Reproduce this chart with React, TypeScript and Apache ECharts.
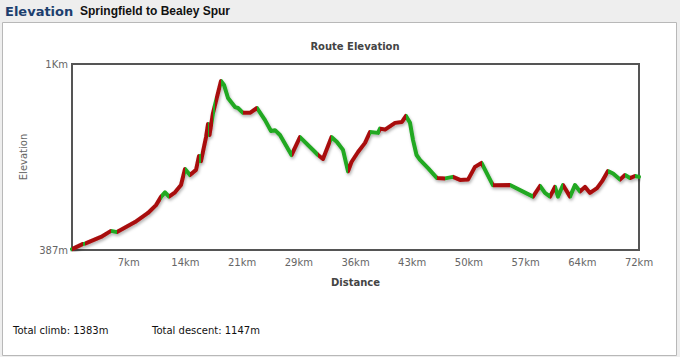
import React, { useEffect, useRef } from "react";
import * as echarts from "echarts";

// Route profile: distance (km), elevation (m), and colour of the segment that starts at each point
const distKm = [
  0, 1.4, 1.65, 3.68, 4.95, 5.71, 8.0, 9.65, 10.67, 11.3, 11.81, 12.32, 13.08, 13.84, 14.35, 14.98,
  15.75, 16.13, 16.38, 17.02, 17.27, 17.46, 17.9, 18.16, 18.92, 19.3, 19.81, 20.7, 21.08, 21.71,
  22.6, 23.49, 24.51, 25.27, 25.78, 26.41, 27.87, 28.95, 30.86, 31.24, 31.87, 32.95, 33.65, 34.41,
  35.05, 35.49, 36.32, 37.21, 37.84, 38.86, 39.11, 39.75, 41.02, 41.9, 42.41, 42.92, 43.3, 43.75,
  44.19, 45.21, 46.35, 47.37, 48.38, 49.27, 50.29, 51.17, 52.0, 53.46, 55.62, 58.54, 59.43, 60.06,
  60.7, 61.33, 61.71, 62.35, 63.24, 63.87, 64.51, 65.14, 65.78, 66.67, 67.3, 68.06, 68.7, 69.59,
  70.22, 70.86, 71.49, 72.0,
];
const elevM = [
  390, 407, 408, 430, 450, 446, 479, 509, 535, 562, 577, 563, 577, 601, 654, 634,
  651, 697, 680, 759, 802, 766, 838, 865, 944, 931, 888, 858, 855, 839,
  839, 855, 815, 779, 782, 766, 700, 759, 710, 700, 687, 759, 743, 717,
  646, 677, 710, 740, 776, 773, 787, 784, 806, 809, 829, 806, 750, 700,
  684, 657, 624, 623, 628, 618, 619, 661, 674, 600, 601, 563, 598, 575,
  563, 595, 563, 601, 563, 601, 580, 595, 575, 591, 613, 647, 639, 619,
  634, 624, 631, 628,
];
const segColor = [
  "r", "g", "r", "r", "g", "r", "r", "r", "r", "g", "g", "r", "r", "r", "g", "r",
  "r", "g", "r", "r", "g", "r", "g", "r", "g", "g", "g", "g", "g", "r",
  "r", "g", "g", "g", "g", "g", "r", "g", "g", "r", "r", "g", "g", "g",
  "r", "r", "r", "r", "g", "g", "r", "r", "r", "r", "g", "g", "g", "g",
  "g", "g", "r", "g", "r", "r", "r", "r", "g", "r", "g", "r", "g", "g",
  "r", "g", "g", "r", "g", "g", "r", "r", "r", "r", "r", "g", "g", "r",
  "g", "r", "g", "g",
];

const xTickValues = [7.2, 14.4, 21.6, 28.8, 36, 43.2, 50.4, 57.6, 64.8, 72];
const xTickLabels = ["7km", "14km", "21km", "29km", "36km", "43km", "50km", "57km", "64km", "72km"];
const yTickValues = [387, 1000];
const yTickLabels = ["387m", "1Km"];

const headerTitle = "Elevation";
const routeName = "Springfield to Bealey Spur";
const chartTitle = "Route Elevation";
const totalClimb = "Total climb: 1383m";
const totalDescent = "Total descent: 1147m";

const RED = "#a80a0a";
const GREEN = "#20a820";
const FONT = "DejaVu Sans";

export default function App() {
  const ref = useRef<HTMLDivElement>(null);

  useEffect(() => {
    if (!ref.current) return;
    const chart = echarts.init(ref.current, null, { renderer: "svg" });

    const data = distKm.map((d, i) => [d, elevM[i]]);
    const pieces: any[] = [];
    for (let i = 0; i < distKm.length - 1; i++) {
      const color = segColor[i] === "r" ? RED : GREEN;
      const last = pieces[pieces.length - 1];
      if (last && last.color === color) {
        last.lt = distKm[i + 1];
      } else {
        pieces.push({ gte: distKm[i], lt: distKm[i + 1], color });
      }
    }
    pieces[pieces.length - 1].lt = distKm[distKm.length - 1] + 1;

    const option: any = {
      animation: false,
      backgroundColor: "#ffffff",
      textStyle: { fontFamily: FONT },
      graphic: [
        { type: "rect", silent: true, z: -10, shape: { x: 0, y: 0, width: 680, height: 357 }, style: { fill: "#eeeeee" } },
        { type: "rect", silent: true, z: -9, shape: { x: 2.5, y: 22.5, width: 674, height: 333 }, style: { fill: "#ffffff", stroke: "#b8b8b8", lineWidth: 1 } },
        { type: "text", x: 5, y: 11, style: { text: headerTitle, fill: "#1d3f6e", font: `bold 13px ${FONT}`, textVerticalAlign: "middle" } },
        { type: "text", x: 80, y: 11, style: { text: routeName, fill: "#111111", font: `bold 12px Liberation Sans`, textVerticalAlign: "middle" } },
        { type: "text", x: 355, y: 46, style: { text: chartTitle, fill: "#444444", font: `bold 10px ${FONT}`, textAlign: "center", textVerticalAlign: "middle" } },
        { type: "text", x: 13, y: 330, style: { text: totalClimb, fill: "#111111", font: `10px ${FONT}`, textVerticalAlign: "middle" } },
        { type: "text", x: 152, y: 330, style: { text: totalDescent, fill: "#111111", font: `10px ${FONT}`, textVerticalAlign: "middle" } },
      ],
      grid: {
        left: 72,
        right: 41,
        top: 64,
        bottom: 107,
        show: true,
        borderColor: "#555555",
        borderWidth: 2,
        backgroundColor: "#ffffff",
      },
      xAxis: {
        type: "value",
        min: 0,
        max: 72,
        name: "Distance",
        nameLocation: "middle",
        nameGap: 27,
        nameTextStyle: { color: "#444444", fontWeight: "bold", fontSize: 10, fontFamily: FONT },
        axisLine: { show: true, lineStyle: { color: "#555555", width: 2 } },
        axisTick: { show: false },
        splitLine: { show: false },
        axisLabel: {
          customValues: xTickValues,
          color: "#666666",
          fontSize: 10,
          fontFamily: FONT,
          margin: 7,
          formatter: (v: number) => {
            const idx = xTickValues.findIndex((t) => Math.abs(t - v) < 1e-6);
            return idx >= 0 ? xTickLabels[idx] : "";
          },
        },
      },
      yAxis: {
        type: "value",
        min: 387,
        max: 1000,
        name: "Elevation",
        nameLocation: "middle",
        nameGap: 38,
        nameTextStyle: { color: "#666666", fontSize: 10, fontFamily: FONT },
        axisLine: { show: true, lineStyle: { color: "#555555", width: 2 } },
        axisTick: { show: false },
        splitLine: { show: false },
        axisLabel: {
          customValues: yTickValues,
          color: "#666666",
          fontSize: 10,
          fontFamily: FONT,
          margin: 4,
          formatter: (v: number) => {
            const idx = yTickValues.indexOf(v);
            return idx >= 0 ? yTickLabels[idx] : "";
          },
        },
      },
      visualMap: {
        show: false,
        type: "piecewise",
        dimension: 0,
        seriesIndex: 0,
        pieces,
        outOfRange: { color: GREEN },
      },
      series: [
        {
          type: "line",
          data,
          symbol: "none",
          smooth: false,
          lineStyle: {
            width: 4,
            cap: "round",
            join: "round",
            shadowColor: "rgba(0,0,0,0.3)",
            shadowBlur: 3,
            shadowOffsetX: 1,
            shadowOffsetY: 2,
          },
        },
      ],
    };

    chart.setOption(option);
    return () => chart.dispose();
  }, []);

  return (
    <div
      ref={ref}
      style={{ position: "absolute", left: 0, top: 0, width: 680, height: 357 }}
    />
  );
}
